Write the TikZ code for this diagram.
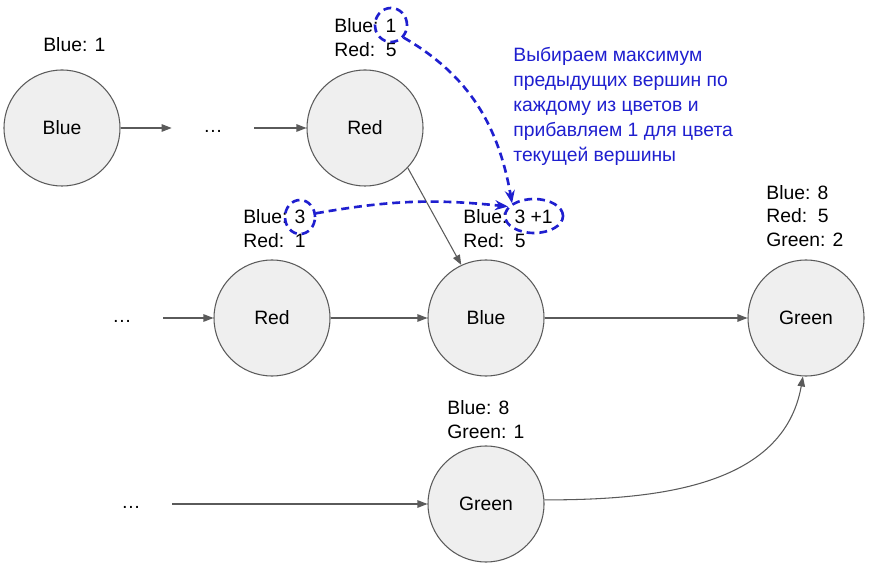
\documentclass[tikz,border=0pt]{standalone}
\usepackage{fontspec}
\setmainfont{Liberation Sans}
\usepackage{tikz}
\usetikzlibrary{arrows.meta,shapes.geometric}
\definecolor{vertgray}{HTML}{EFEFEF}
\definecolor{edgegray}{HTML}{5A5A5A}
\definecolor{noteblue}{HTML}{1F1FCF}

\begin{document}
\begin{tikzpicture}[
  vert/.style={circle,draw=edgegray,fill=vertgray,minimum size=2.32cm,inner sep=0pt,line width=.6pt},
  cnt/.style={anchor=west,align=left,inner sep=0pt},
  dotsbox/.style={minimum width=1.64cm,inner sep=0pt},
  edge/.style={draw=edgegray,line width=.6pt,-{Triangle[length=2mm,width=1.5mm]}},
  hl/.style={ellipse,draw=noteblue,line width=1.5pt,dash pattern=on 4.5pt off 2.8pt,inner sep=0pt},
  hlarrow/.style={draw=noteblue,line width=1.5pt,dash pattern=on 4.5pt off 2.8pt,-{Stealth[length=2.6mm,width=2mm]}},
  every node/.style={font=\fontsize{11}{13.6}\selectfont}]
  \useasboundingbox (0,0) rectangle (17.5,11.4);
  % vertices
  \node[vert] (bluea) at (1.24,8.84) {Blue};
  \node[vert] (redtop) at (7.30,8.84) {Red};
  \node[vert] (redmid) at (5.44,5.04) {Red};
  \node[vert] (bluemid) at (9.72,5.04) {Blue};
  \node[vert] (greenr) at (16.12,5.04) {Green};
  \node[vert] (greenb) at (9.72,1.32) {Green};
  \node[dotsbox] (dots1) at (4.26,8.84) {\strut\dots};
  \node[dotsbox] (dots2) at (2.44,5.04) {\strut\dots};
  \node[dotsbox] (dots3) at (2.62,1.32) {\strut\dots};
  % counters
  \node[cnt] at (0.86,10.50) {Blue: 1};
  \node[cnt] at (6.68,10.64) {Blue: 1\\Red:~~5};
  \node[cnt] at (4.86,6.82) {Blue: 3\\Red:~~1};
  \node[cnt] at (9.26,6.82) {Blue: 3 +1\\Red:~~5};
  \node[cnt] at (15.32,7.08) {Blue: 8\\Red:~~5\\Green: 2};
  \node[cnt] at (8.94,3.01) {Blue: 8\\Green: 1};
  \node[cnt,text=noteblue,font=\fontsize{11}{14.2}\selectfont] (note) at (10.26,9.27)
    {Выбираем максимум\\предыдущих вершин по\\каждому из цветов и\\прибавляем 1 для цвета\\текущей вершины};
  % edges
  \draw[edge] (bluea) -- (dots1);
  \draw[edge] (dots1) -- (redtop);
  \draw[edge] (dots2) -- (redmid);
  \draw[edge] (redmid) -- (bluemid);
  \draw[edge] (redtop.-43) -- (bluemid.115);
  \draw[edge] (bluemid) -- (greenr);
  \draw[edge] (dots3) -- (greenb);
  \draw[edge] (greenb.4) to[out=0,in=-100] (greenr.-93);
  % highlighted values
  \node[hl,minimum width=.64cm,minimum height=.68cm] (hltop) at (7.82,10.90) {};
  \node[hl,minimum width=.60cm,minimum height=.68cm] (hlmid) at (6.00,7.06) {};
  \node[hl,minimum width=1.16cm,minimum height=.68cm] (hlsum) at (10.68,7.08) {};
  \draw[hlarrow] (hltop.-45) to[out=-30,in=100] (hlsum.150);
  \draw[hlarrow] (hlmid.13) to[bend left=8] (hlsum.160);
\end{tikzpicture}
\end{document}
